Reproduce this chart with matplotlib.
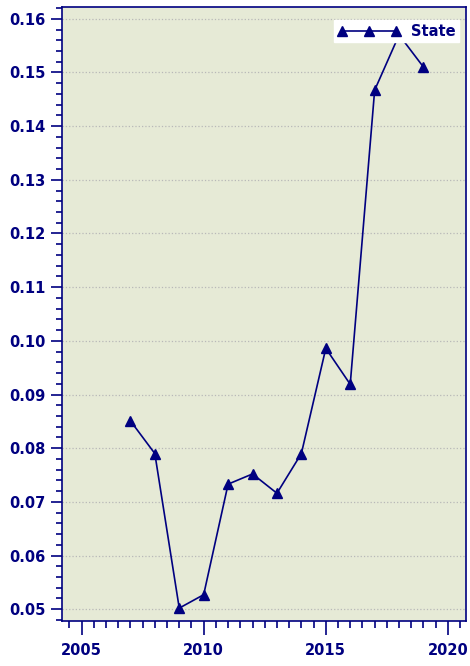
import matplotlib
matplotlib.use("Agg")
import matplotlib.pyplot as plt
from matplotlib.ticker import MultipleLocator

years = [2007, 2008, 2009, 2010, 2011, 2012, 2013, 2014, 2015, 2016, 2017, 2018, 2019]
state = [0.0851, 0.0790, 0.0502, 0.0527, 0.0733, 0.0752, 0.0716, 0.0790,
         0.0986, 0.0919, 0.1467, 0.1570, 0.1510]

navy = "#000080"

fig = plt.figure(figsize=(4.7, 6.66), dpi=100)
ax = fig.add_axes([62/470, 1 - 621/666, (466-62)/470, (621-7)/666])
ax.set_facecolor("#e6ead6")

ax.plot(years, state, color=navy, lw=1.2, marker="^", ms=7, label="State")

ax.set_xlim(2004.2, 2020.74)
ax.set_ylim(0.0478, 0.1622)
ax.xaxis.set_major_locator(MultipleLocator(5))
ax.xaxis.set_minor_locator(MultipleLocator(0.5))
ax.yaxis.set_major_locator(MultipleLocator(0.01))
ax.yaxis.set_minor_locator(MultipleLocator(0.002))
ax.yaxis.set_major_formatter(plt.FuncFormatter(lambda v, p: f"{v:.2f}"))

ax.grid(axis="y", which="major", color="#b8b8b8", ls=":", lw=0.9)
ax.set_axisbelow(True)

for s in ax.spines.values():
    s.set_color(navy)
    s.set_linewidth(1.2)

ax.tick_params(which="major", length=8, width=1.2, color=navy, labelcolor=navy,
               labelsize=10.5, pad=4)
ax.tick_params(axis="x", which="major", length=10, pad=6)
ax.tick_params(which="minor", length=4, width=1.2, color=navy)
ax.tick_params(axis="x", which="minor", length=5)
for lab in ax.get_xticklabels() + ax.get_yticklabels():
    lab.set_fontweight("bold")

leg = ax.legend(loc="upper right", frameon=True, fancybox=False, framealpha=1,
                edgecolor="white", facecolor="white",
                numpoints=3, handlelength=4.3, handletextpad=0.7, borderpad=0.25,
                borderaxespad=0, bbox_to_anchor=(0.9827, 0.9788),
                prop={"size": 10.5, "weight": "bold"})
for t in leg.get_texts():
    t.set_color(navy)

fig.savefig("out.png", dpi=100)
